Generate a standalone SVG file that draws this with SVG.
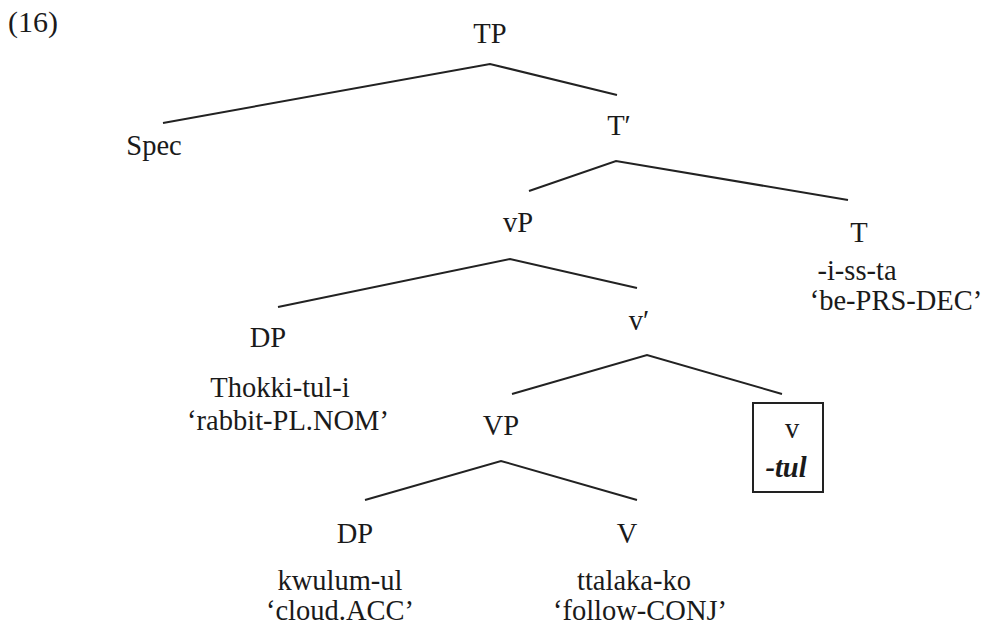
<svg xmlns="http://www.w3.org/2000/svg" width="990" height="629" viewBox="0 0 990 629">
<style>
text{font-family:"Liberation Serif","Times New Roman",serif;font-size:28.5px;fill:#1a1a1a}
.c{text-anchor:middle}
.edge{stroke:#222;stroke-width:2;fill:none}
</style>
<rect width="990" height="629" fill="#fff"/>
<text x="8" y="32" style="font-size:30px">(16)</text>
<g id="connectors">
<polyline class="edge" points="163,123 490,64 617,95"/>
<polyline class="edge" points="529,191 616,161 848,200"/>
<polyline class="edge" points="278,307 510,259 637,288"/>
<polyline class="edge" points="512,394 647,355 782,394"/>
<polyline class="edge" points="365,500 501,461 637,500"/>
</g>
<g id="TP"><text class="c" x="490" y="43">TP</text></g>
<g id="Spec"><text class="c" x="154" y="155">Spec</text></g>
<g id="Tbar"><text class="c" x="619" y="135">T′</text></g>
<g id="vP"><text class="c" x="518" y="232">vP</text></g>
<g id="T"><text class="c" x="859" y="242">T</text><text class="c" x="857" y="280">-i-ss-ta</text><text class="c" x="896" y="310">‘be-PRS-DEC’</text></g>
<g id="DP1"><text class="c" x="268" y="347">DP</text><text class="c" x="280" y="397">Thokki-tul-i</text><text class="c" x="288" y="430">‘rabbit-PL.NOM’</text></g>
<g id="vbar"><text class="c" x="639" y="330">v′</text></g>
<g id="VP"><text class="c" x="501" y="435">VP</text></g>
<g id="v"><rect x="753" y="403" width="70" height="89" fill="none" stroke="#222" stroke-width="2"/><text class="c" x="792" y="438">v</text><text class="c" x="786" y="477" style="font-weight:bold;font-style:italic">-tul</text></g>
<g id="DP2"><text class="c" x="355" y="543">DP</text><text class="c" x="340" y="590">kwulum-ul</text><text class="c" x="340" y="620">‘cloud.ACC’</text></g>
<g id="V"><text class="c" x="627" y="543">V</text><text class="c" x="634" y="590">ttalaka-ko</text><text class="c" x="640" y="620">‘follow-CONJ’</text></g>
</svg>
